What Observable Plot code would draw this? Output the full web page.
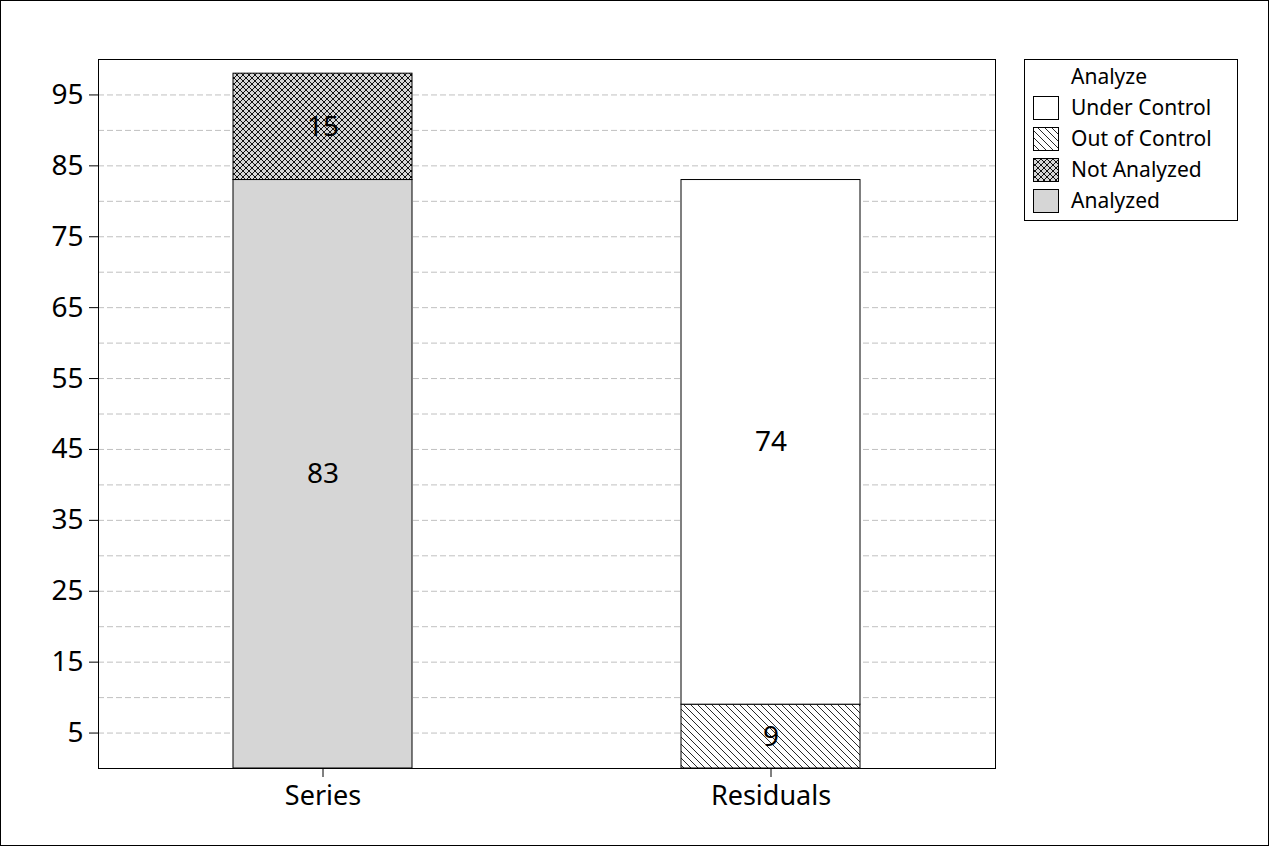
<!DOCTYPE html>
<html>
<head>
<meta charset="utf-8">
<script src="https://cdn.jsdelivr.net/npm/d3@7"></script>
<script src="https://cdn.jsdelivr.net/npm/@observablehq/plot@0.6"></script>
<style>
  html, body { margin: 0; padding: 0; background: white; }
  #chart { width: 1269px; height: 846px; }
</style>
</head>
<body>
<div id="chart"></div>
<script>
// ---- data ----
const categories = ["Series", "Residuals"];
const barCategory = ["Series", "Series", "Residuals", "Residuals"];
const barStatus = ["Analyzed", "Not Analyzed", "Out of Control", "Under Control"];
const barValues = [83, 15, 9, 74];
const legendStatuses = ["Under Control", "Out of Control", "Not Analyzed", "Analyzed"];
const yTicks = [5, 15, 25, 35, 45, 55, 65, 75, 85, 95];
const gridValues = [5, 10, 15, 20, 25, 30, 35, 40, 45, 50, 55, 60, 65, 70, 75, 80, 85, 90, 95];

const fills = {
  "Analyzed": "#d6d6d6",
  "Not Analyzed": "url(#crosshatch)",
  "Out of Control": "url(#diagonal)",
  "Under Control": "white"
};

const data = barValues.map((v, i) => ({category: barCategory[i], status: barStatus[i], value: v}));

const chart = Plot.plot({
  width: 1269,
  height: 846,
  marginLeft: 98,
  marginRight: 274,
  marginTop: 59,
  marginBottom: 78,
  style: {fontFamily: "Noto Sans", fontSize: "27px", background: "white", color: "black"},
  x: {domain: categories, paddingInner: 0.6, paddingOuter: 0.3, label: null},
  y: {domain: [0, 100], label: null},
  color: {domain: Object.keys(fills), range: Object.values(fills)},
  marks: [
    Plot.gridY(gridValues, {stroke: "#c0c0c0", strokeOpacity: 1, strokeDasharray: "6,3"}),
    Plot.barY(data, {x: "category", y: "value", fill: "status", stroke: "black", strokeWidth: 1, inset: 0}),
    Plot.text(data, Plot.stackY({x: "category", y: "value", text: d => String(d.value), fontSize: 28, fill: "black"})),
    Plot.axisY({ticks: yTicks, tickSize: 9, tickPadding: 6, fontSize: 28, label: null}),
    Plot.axisX({tickSize: 9, tickPadding: 8, fontSize: 27, label: null}),
    Plot.frame({stroke: "black", strokeWidth: 1})
  ]
});

document.getElementById("chart").appendChild(chart);

// ---- patterns ----
const svg = d3.select(chart);
const defs = svg.insert("defs", ":first-child");
const ch = defs.append("pattern").attr("id", "crosshatch").attr("patternUnits", "userSpaceOnUse")
  .attr("width", 6).attr("height", 6);
ch.append("rect").attr("width", 6).attr("height", 6).attr("fill", "#d6d6d6");
ch.append("path").attr("d", "M0,0L6,6M6,0L0,6").attr("stroke", "#111").attr("stroke-width", 1).attr("fill", "none");

const dg = defs.append("pattern").attr("id", "diagonal").attr("patternUnits", "userSpaceOnUse")
  .attr("width", 7).attr("height", 7);
dg.append("rect").attr("width", 7).attr("height", 7).attr("fill", "white");
dg.append("path").attr("d", "M0,0L7,7M-1,6L1,8M6,-1L8,1").attr("stroke", "#111").attr("stroke-width", 0.9).attr("fill", "none");

// ---- outer border ----
svg.append("rect").attr("x", 0.5).attr("y", 0.5).attr("width", 1268).attr("height", 845)
  .attr("fill", "none").attr("stroke", "black");

// ---- legend ----
const lg = svg.append("g").attr("font-family", "Noto Sans").attr("font-size", 21).attr("text-anchor", "start");
lg.append("rect").attr("x", 1024.5).attr("y", 59.5).attr("width", 213).attr("height", 161)
  .attr("fill", "white").attr("stroke", "black");
lg.append("text").attr("x", 1071).attr("y", 77).attr("dy", "0.35em").attr("text-anchor", "start").text("Analyze");
legendStatuses.forEach((s, i) => {
  const cy = 108 + i * 31;
  lg.append("rect").attr("x", 1033.5).attr("y", cy - 11.5).attr("width", 25).attr("height", 23)
    .attr("fill", fills[s]).attr("stroke", "black");
  lg.append("text").attr("x", 1071).attr("y", cy).attr("dy", "0.35em").attr("text-anchor", "start").text(s);
});
</script>
</body>
</html>
